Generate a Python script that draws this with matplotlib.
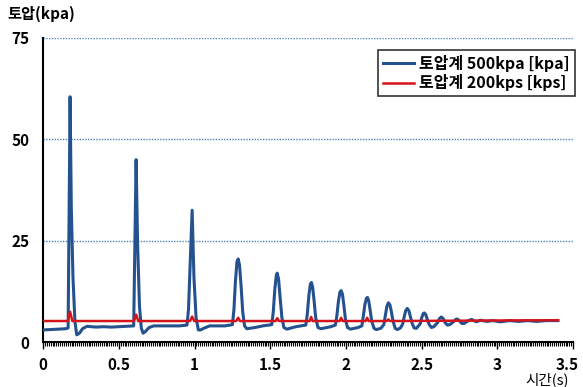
import matplotlib.pyplot as plt
import matplotlib.transforms as mtransforms
from matplotlib.ticker import MultipleLocator

plt.rcParams['font.family'] = ['Noto Sans CJK KR', 'DejaVu Sans']

# 토압계 500kpa (time, value)
t_blue = [0.0, 0.05, 0.10, 0.15, 0.165, 0.178, 0.186, 0.197, 0.21, 0.222, 0.24, 0.26, 0.29,
          0.35, 0.40, 0.45, 0.50, 0.56, 0.598, 0.614, 0.624, 0.636, 0.648, 0.66, 0.675, 0.70, 0.73,
          0.80, 0.90, 0.95, 0.96, 0.984, 0.996, 1.01, 1.025, 1.04, 1.06, 1.10, 1.20,
          1.25, 1.26, 1.27, 1.28, 1.288, 1.297, 1.307, 1.318, 1.33, 1.345, 1.40, 1.45,
          1.51, 1.52, 1.53, 1.54, 1.546, 1.555, 1.565, 1.577, 1.59, 1.61, 1.67,
          1.735, 1.745, 1.755, 1.765, 1.772, 1.78, 1.79, 1.80, 1.815, 1.835, 1.90,
          1.93, 1.94, 1.95, 1.96, 1.968, 1.977, 1.987, 1.997, 2.01, 2.03, 2.08,
          2.105, 2.115, 2.125, 2.135, 2.142, 2.15, 2.16, 2.17, 2.185, 2.20, 2.23,
          2.25, 2.26, 2.27, 2.28, 2.29, 2.30, 2.31, 2.325, 2.34, 2.36,
          2.375, 2.385, 2.395, 2.405, 2.415, 2.425, 2.437, 2.45, 2.465,
          2.49, 2.50, 2.51, 2.517, 2.527, 2.537, 2.55, 2.565, 2.58,
          2.605, 2.617, 2.63, 2.642, 2.655, 2.67, 2.685,
          2.71, 2.725, 2.735, 2.75, 2.765, 2.78, 2.81, 2.83, 2.86, 2.89, 2.93,
          2.97, 3.02, 3.08, 3.14, 3.20, 3.26, 3.32, 3.40]
v_blue = [3.0, 3.1, 3.2, 3.3, 3.5, 60.5, 33.0, 16.0, 5.0, 1.8, 2.2, 3.3, 3.9,
          3.7, 3.8, 3.7, 3.8, 3.9, 4.0, 45.0, 24.0, 9.0, 3.5, 2.2, 2.6, 3.6, 4.0,
          4.0, 4.0, 4.2, 8.0, 32.5, 16.0, 6.0, 3.0, 3.0, 3.4, 4.0, 4.0,
          4.3, 8.0, 15.0, 19.8, 20.5, 19.0, 14.0, 7.5, 4.0, 3.3, 3.6, 4.0,
          4.3, 7.5, 13.0, 16.5, 17.0, 15.5, 11.0, 6.0, 3.6, 3.2, 3.8,
          4.2, 7.0, 11.5, 14.3, 14.7, 13.5, 10.0, 6.0, 3.6, 3.3, 3.8,
          4.2, 6.5, 10.0, 12.3, 12.7, 11.8, 8.8, 5.5, 3.6, 3.2, 3.6,
          4.0, 6.5, 9.3, 10.8, 11.0, 10.2, 7.8, 5.2, 3.4, 3.1, 3.4,
          4.3, 6.5, 8.8, 9.7, 9.2, 7.5, 5.3, 3.4, 3.1, 3.5,
          4.5, 6.3, 7.8, 8.3, 7.8, 6.3, 4.6, 3.5, 3.4,
          4.5, 6.0, 7.0, 7.2, 6.8, 5.6, 4.3, 3.6, 3.8,
          4.8, 5.8, 6.2, 5.8, 4.8, 4.2, 4.3,
          5.0, 5.6, 5.7, 5.2, 4.6, 4.6, 5.3, 5.6, 5.0, 5.4, 5.1,
          5.3, 5.0, 5.3, 5.1, 5.3, 5.1, 5.3, 5.3]

# 토압계 200kps (time, value)
t_red = [0.0, 0.163, 0.178, 0.193, 0.60, 0.614, 0.628, 0.97, 0.984, 0.998, 1.275, 1.288,
         1.30, 1.535, 1.546, 1.557, 1.76, 1.77, 1.78, 1.958, 1.968, 1.978, 2.13, 2.14,
         2.15, 2.27, 2.28, 2.29, 3.40]
v_red = [5.2, 5.2, 7.5, 5.2, 5.2, 6.8, 5.2, 5.2, 6.3, 5.2, 5.2, 6.0,
         5.2, 5.2, 5.9, 5.2, 5.2, 6.2, 5.2, 5.2, 6.0, 5.2, 5.2, 6.0,
         5.2, 5.2, 5.6, 5.2, 5.4]

fig = plt.figure(figsize=(5.83, 3.87), dpi=100)
ax = fig.add_axes([0.074, 0.116, 0.909, 0.786])

ax.plot(t_blue, v_blue, color='#24528e', lw=2.2, label='토압계 500kpa [kpa]', zorder=3)
ax.plot(t_red, v_red, color='#d4141a', lw=1.8, label='토압계 200kps [kps]', zorder=4)

ax.set_xlim(0, 3.5)
ax.set_ylim(0, 75)
ax.set_yticks([0, 25, 50, 75])
ax.set_xticks([0, 0.5, 1, 1.5, 2, 2.5, 3, 3.5])
ax.set_xticklabels(['0', '0.5', '1', '1.5', '2', '2.5', '3', '3.5'])
ax.xaxis.set_minor_locator(MultipleLocator(0.0125))
ax.yaxis.grid(True, color='#4f81bd', linestyle=(0, (1, 1)), lw=1.0)
ax.set_axisbelow(True)

for s in ['top', 'right']:
    ax.spines[s].set_visible(False)
for s in ['left', 'bottom']:
    ax.spines[s].set_linewidth(1.5)
    ax.spines[s].set_color('black')

ax.tick_params(axis='y', length=0, pad=10, labelsize=11)
ax.tick_params(axis='x', which='major', length=5, width=1, pad=6, labelsize=11)
ax.tick_params(axis='x', which='minor', length=3, width=0.8)
for lab in ax.get_xticklabels() + ax.get_yticklabels():
    lab.set_fontweight('bold')

# keep the last label inside the picture
last = ax.get_xticklabels()[-1]
last.set_transform(last.get_transform() + mtransforms.ScaledTranslation(-4 / 72, 0, fig.dpi_scale_trans))

fig.text(0.012, 0.963, '토압(kpa)', fontsize=11, fontweight='bold', va='center')
fig.text(0.975, 0.0, '시간(s)', fontsize=10.5, ha='right', va='bottom')

leg = ax.legend(loc='upper right', bbox_to_anchor=(1.003, 0.96), frameon=True, fancybox=False,
                edgecolor='black', handlelength=2.0, handletextpad=0.3,
                borderpad=0.3, labelspacing=0.15, borderaxespad=0,
                prop={'weight': 'bold', 'size': 11.5})
leg.get_frame().set_linewidth(1.2)

fig.savefig('out.png', dpi=100)
